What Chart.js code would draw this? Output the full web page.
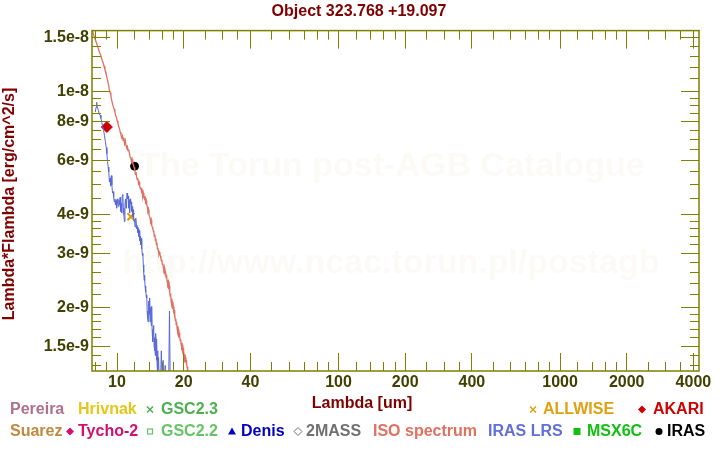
<!DOCTYPE html>
<html>
<head>
<meta charset="utf-8">
<script src="https://cdn.jsdelivr.net/npm/chart.js@4.4.1/dist/chart.umd.min.js"></script>
<style>
  html, body { margin: 0; padding: 0; background: #fff; }
</style>
</head>
<body>
<canvas id="sed" width="720" height="450"></canvas>
<script>
// flux values are Lambda*Flambda in units of 1e-9 erg/cm^2/s, wavelengths in um

// ISO spectrum
const isoWave = [7.70, 7.78, 7.86, 7.94, 8.02, 8.10, 8.18, 8.26, 8.34, 8.42, 8.50, 8.58, 8.66, 8.74, 8.82, 8.90, 8.98,
  9.06, 9.14, 9.22, 9.30, 9.38, 9.46, 9.54, 9.62, 9.70, 9.78, 9.86, 9.94, 10.02, 10.10, 10.18, 10.26, 10.34, 10.42,
  10.50, 10.58, 10.66, 10.74, 10.82, 10.90, 10.98, 11.06, 11.14, 11.22, 11.30, 11.38, 11.46, 11.54, 11.62, 11.70,
  11.78, 11.86, 11.94, 12.02, 12.10, 12.18, 12.26, 12.34, 12.42, 12.50, 12.58, 12.66, 12.74, 12.82, 12.90, 12.98,
  13.06, 13.14, 13.22, 13.30, 13.38, 13.46, 13.54, 13.62, 13.70, 13.78, 13.86, 13.94, 14.02, 14.10, 14.18, 14.26,
  14.34, 14.42, 14.50, 14.58, 14.66, 14.74, 14.82, 14.90, 14.98, 15.06, 15.14, 15.22, 15.30, 15.38, 15.46, 15.54,
  15.62, 15.70, 15.78, 15.86, 15.94, 16.02, 16.10, 16.18, 16.26, 16.34, 16.42, 16.50, 16.58, 16.66, 16.74, 16.82,
  16.90, 16.98, 17.06, 17.14, 17.22, 17.30, 17.38, 17.46, 17.54, 17.62, 17.70, 17.78, 17.86, 17.94, 18.02, 18.10,
  18.18, 18.26, 18.34, 18.42, 18.50, 18.58, 18.66, 18.74, 18.82, 18.90, 18.98, 19.06, 19.14, 19.22, 19.30, 19.38,
  19.46, 19.54, 19.62, 19.70, 19.78, 19.86, 19.94, 20.02, 20.10, 20.18, 20.26, 20.34, 20.42, 20.50, 20.58, 20.66,
  20.74, 20.82, 20.90, 21.00];
const isoFlux = [16.0, 15.6, 15.2, 14.9, 14.6, 14.3, 14.0, 13.7, 13.4, 13.2, 12.9, 12.6, 12.4, 12.1, 11.8, 11.6, 11.2,
  10.9, 10.6, 10.2, 9.95, 9.7, 9.4, 9.15, 8.95, 8.8, 8.6, 8.4, 8.25, 8.05, 7.9, 7.7, 7.6, 7.4, 7.25,
  7.1, 7.2, 6.95, 7.1, 6.8, 6.95, 6.7, 6.6, 6.65, 6.45, 6.5, 6.3, 6.15, 6.1, 5.95, 6.05,
  5.85, 5.8, 5.7, 5.6, 5.4, 5.5, 5.3, 5.2, 5.25, 5.05, 5.1, 4.95, 4.85, 4.9, 4.75, 4.8,
  4.6, 4.7, 4.55, 4.5, 4.55, 4.4, 4.45, 4.3, 4.25, 4.1, 4.15, 4.0, 3.95, 3.9, 3.8, 3.85,
  3.7, 3.65, 3.6, 3.55, 3.5, 3.4, 3.45, 3.3, 3.35, 3.2, 3.25, 3.1, 3.12, 3.05, 2.98, 3.02,
  2.98, 2.94, 2.88, 2.84, 2.86, 2.76, 2.78, 2.7, 2.66, 2.7, 2.6, 2.62, 2.55, 2.5, 2.56, 2.44,
  2.46, 2.38, 2.42, 2.3, 2.35, 2.24, 2.18, 2.22, 2.1, 2.14, 2.04, 2.07, 1.98, 2.02, 1.92, 1.96,
  1.86, 1.9, 1.82, 1.84, 1.76, 1.8, 1.72, 1.74, 1.67, 1.7, 1.64, 1.66, 1.6, 1.62, 1.56, 1.58,
  1.52, 1.54, 1.49, 1.51, 1.46, 1.48, 1.42, 1.45, 1.39, 1.41, 1.36, 1.38, 1.33, 1.35, 1.3, 1.31,
  1.28, 1.29, 1.25, 1.2];

// IRAS LRS spectrum
const lrsWave = [7.98, 8.04, 8.08, 8.12, 8.18, 8.24, 8.30, 8.38, 8.46, 8.54, 8.62, 8.70, 8.78, 8.86, 8.94, 9.00,
  9.06, 9.12, 9.18, 9.24, 9.30, 9.36, 9.42, 9.48, 9.54, 9.60, 9.66, 9.72, 9.78, 9.84, 9.90, 9.96, 10.02, 10.08,
  10.14, 10.20, 10.26, 10.32, 10.38, 10.44, 10.50, 10.56, 10.62, 10.68, 10.74, 10.80, 10.86, 10.92, 10.98, 11.04,
  11.10, 11.16, 11.22, 11.28, 11.34, 11.40, 11.46, 11.52, 11.58, 11.64, 11.70, 11.76, 11.82, 11.88, 11.94, 12.00,
  12.06, 12.12, 12.18, 12.24, 12.30, 12.36, 12.42, 12.48, 12.54, 12.60, 12.66, 12.72, 12.78, 12.84, 12.90, 12.96,
  13.02, 13.08, 13.14, 13.20, 13.26, 13.32, 13.38, 13.44, 13.50, 13.56, 13.62, 13.68, 13.74, 13.80, 13.86, 13.92,
  13.98, 14.04, 14.10, 14.16, 14.22, 14.28, 14.34, 14.40, 14.46, 14.52, 14.58, 14.64, 14.70, 14.76, 14.82, 14.88,
  14.94, 15.00, 15.06, 15.12, 15.18, 15.24, 15.30, 15.40, 15.50, 15.60, 15.70, 15.85, 16.00, 16.15, 16.30, 16.50,
  16.70, 16.90, 17.10, 17.25, 17.40, 17.60];
const lrsFlux = [8.6, 8.9, 9.25, 9.0, 8.85, 8.7, 8.5, 8.4, 8.2, 7.95, 7.7, 7.5, 7.2, 6.9, 6.6, 6.3,
  5.95, 5.7, 5.5, 5.1, 5.25, 4.95, 5.35, 5.0, 4.7, 4.75, 4.55, 4.4, 4.5, 4.3, 4.45, 4.2, 4.5, 4.35,
  4.25, 4.45, 4.3, 4.55, 4.1, 4.35, 4.05, 4.6, 4.65, 4.2, 4.0, 3.8, 4.3, 4.5, 4.2, 4.4,
  4.7, 4.5, 4.6, 4.2, 4.45, 4.05, 4.5, 4.35, 4.4, 4.1, 4.25, 3.95, 4.15, 3.9, 3.8, 3.85,
  3.65, 3.75, 3.9, 3.7, 3.6, 3.65, 3.5, 3.6, 3.4, 3.55, 3.3, 3.4, 3.2, 3.35, 3.1, 3.15,
  2.95, 3.0, 2.75, 2.6, 2.45, 2.55, 2.35, 2.25, 2.3, 2.15, 2.2, 1.95, 1.85, 1.8, 2.05, 2.1,
  1.9, 2.15, 1.8, 1.9, 2.0, 1.75, 2.02, 1.7, 1.6, 1.55, 1.7, 1.75, 1.5, 1.45, 1.6, 1.4,
  1.65, 1.58, 1.35, 1.55, 1.3, 1.45, 1.2, 1.38, 1.15, 1.25, 1.1, 1.45, 1.15, 1.35, 1.05, 1.3,
  1.0, 1.15, 1.1, 1.95, 1.1, 1.0];

// photometry
const akariWave = [9.0];
const akariFlux = [7.69];
const irasWave = [12.0];
const irasFlux = [5.74];
const allwiseWave = [11.56];
const allwiseFlux = [3.94];

// axes
const xTickValues = [10, 20, 40, 100, 200, 400, 1000, 2000, 4000];
const xTickLabels = ['10', '20', '40', '100', '200', '400', '1000', '2000', '4000'];
const xMinorTicks = [8, 9, 12, 14, 16, 18, 25, 30, 35, 50, 60, 70, 80, 90, 120, 140, 160, 180, 250, 300, 350,
  500, 600, 700, 800, 900, 1200, 1400, 1600, 1800, 2500, 3000, 3500];
const yTickValues = [1.5, 2, 3, 4, 6, 8, 10, 15];
const yTickLabels = ['1.5e-9', '2e-9', '3e-9', '4e-9', '6e-9', '8e-9', '1e-8', '1.5e-8'];
const yMinorTicks = [1.3, 1.4, 1.6, 1.7, 1.8, 1.9, 2.2, 2.4, 2.6, 2.8, 3.2, 3.4, 3.6, 3.8, 4.5, 5, 5.5,
  6.5, 7, 7.5, 8.5, 9, 9.5, 11, 12, 13, 14];

const FONT = '"Liberation Sans", Arial, sans-serif';
const OLIVE = '#808000';

const pts = (w, f) => w.map((v, i) => ({ x: v, y: f[i] }));

// legend entries: [text, colour, marker, textX, markerX, row]
const legendItems = [
  ['Pereira', '#b0708c', null, 10, 0, 0],
  ['Hrivnak', '#e6c618', null, 78, 0, 0],
  ['GSC2.3', '#4caf50', 'x', 161, 150, 0],
  ['ALLWISE', '#e0a010', 'x', 543, 533, 0],
  ['AKARI', '#d00000', 'diamond', 653, 642, 0],
  ['Suarez', '#c08a3c', null, 10, 0, 1],
  ['Tycho-2', '#d0106f', 'diamond', 78, 70, 1],
  ['GSC2.2', '#66c466', 'square', 161, 150, 1],
  ['Denis', '#0000c0', 'triangle', 241, 232, 1],
  ['2MASS', '#707070', 'odiamond', 306, 298, 1],
  ['ISO spectrum', '#e0705f', null, 373, 0, 1],
  ['IRAS LRS', '#6070d8', null, 488, 0, 1],
  ['MSX6C', '#10c010', 'fsquare', 587, 577, 1],
  ['IRAS', '#000000', 'circle', 667, 659, 1]
];

function legendMarker(ctx, kind, x, y, color) {
  ctx.save();
  ctx.fillStyle = color;
  ctx.strokeStyle = color;
  ctx.lineWidth = 1.5;
  ctx.beginPath();
  if (kind === 'x') {
    ctx.moveTo(x - 3, y - 3); ctx.lineTo(x + 3, y + 3);
    ctx.moveTo(x + 3, y - 3); ctx.lineTo(x - 3, y + 3);
    ctx.stroke();
  } else if (kind === 'diamond') {
    ctx.moveTo(x, y - 4); ctx.lineTo(x + 4, y); ctx.lineTo(x, y + 4); ctx.lineTo(x - 4, y);
    ctx.closePath(); ctx.fill();
  } else if (kind === 'odiamond') {
    ctx.lineWidth = 1;
    ctx.moveTo(x, y - 4); ctx.lineTo(x + 4, y); ctx.lineTo(x, y + 4); ctx.lineTo(x - 4, y);
    ctx.closePath(); ctx.stroke();
  } else if (kind === 'square') {
    ctx.lineWidth = 1.2;
    ctx.strokeRect(x - 2.5, y - 2.5, 5, 5);
  } else if (kind === 'fsquare') {
    ctx.fillRect(x - 3.5, y - 3.5, 7, 7);
  } else if (kind === 'triangle') {
    ctx.moveTo(x, y - 4); ctx.lineTo(x + 4, y + 3); ctx.lineTo(x - 4, y + 3);
    ctx.closePath(); ctx.fill();
  } else if (kind === 'circle') {
    ctx.arc(x, y, 3.5, 0, Math.PI * 2); ctx.fill();
  }
  ctx.restore();
}

// tick marks drawn by the scales themselves: negative length points them into the plot,
// a dash pattern shortens the minor ones to half length
const isMinor = list => c => !!(c.tick && list.includes(c.tick.value));
function inwardTicks(minorTest, startsAtBorder) {
  return {
    display: true,
    drawOnChartArea: false,
    drawTicks: true,
    tickLength: -18,
    tickColor: OLIVE,
    tickWidth: 1,
    z: 1,
    tickBorderDash: c => minorTest(c) ? (startsAtBorder ? [9, 100] : [0, 9, 9, 100]) : []
  };
}
const allX = xTickValues.concat(xMinorTicks);
const allY = yTickValues.concat(yMinorTicks);
const xLabel = v => { const i = xTickValues.indexOf(v); return i >= 0 ? xTickLabels[i] : ''; };
const yLabel = v => { const i = yTickValues.indexOf(v); return i >= 0 ? yTickLabels[i] : ''; };

// faint catalogue watermark behind the spectra
const watermark = {
  id: 'watermark',
  beforeDatasetsDraw(chart) {
    const ctx = chart.ctx;
    ctx.save();
    ctx.fillStyle = '#fcfaf7';
    ctx.font = 'bold 34px ' + FONT;
    ctx.textAlign = 'center';
    ctx.textBaseline = 'alphabetic';
    ctx.fillText('The Torun post-AGB Catalogue', 392, 176);
    ctx.fillText('http://www.ncac.torun.pl/postagb', 391, 273);
    ctx.restore();
  }
};

// frame box
const frame = {
  id: 'frame',
  afterDraw(chart) {
    const { ctx, chartArea: a } = chart;
    ctx.save();
    ctx.strokeStyle = OLIVE;
    ctx.lineWidth = 1.5;
    ctx.strokeRect(a.left, a.top, a.right - a.left, a.bottom - a.top);
    ctx.restore();
  }
};

// titles and catalogue legend
const labels = {
  id: 'labels',
  afterDraw(chart) {
    const ctx = chart.ctx;
    ctx.save();
    ctx.font = 'bold 16px ' + FONT;
    ctx.textBaseline = 'middle';
    ctx.textAlign = 'center';
    ctx.fillStyle = '#800000';
    ctx.fillText('Object 323.768 +19.097', 359, 12);
    ctx.fillText('Lambda [um]', 362, 404);
    ctx.save();
    ctx.translate(10, 204);
    ctx.rotate(-Math.PI / 2);
    ctx.fillText('Lambda*Flambda [erg/cm^2/s]', 0, 0);
    ctx.restore();

    ctx.textAlign = 'left';
    legendItems.forEach(([text, color, kind, tx, mx, row]) => {
      const y = row === 0 ? 409.5 : 431.5;
      if (kind) legendMarker(ctx, kind, mx, y, color);
      ctx.fillStyle = color;
      ctx.fillText(text, tx, y);
    });
    ctx.restore();
  }
};

Chart.defaults.font.family = FONT;

new Chart(document.getElementById('sed'), {
  type: 'scatter',
  data: {
    datasets: [
      {
        label: 'ISO spectrum',
        data: pts(isoWave, isoFlux),
        xAxisID: 'x', yAxisID: 'y',
        showLine: true,
        borderColor: '#e0705f',
        borderWidth: 1.3,
        pointRadius: 0,
        tension: 0
      },
      {
        label: 'IRAS LRS',
        data: pts(lrsWave, lrsFlux),
        xAxisID: 'x', yAxisID: 'y',
        showLine: true,
        borderColor: '#5868d8',
        borderWidth: 1,
        pointRadius: 0,
        tension: 0
      },
      {
        label: 'AKARI',
        data: pts(akariWave, akariFlux),
        xAxisID: 'x', yAxisID: 'y',
        pointStyle: 'rectRot',
        pointRadius: 5.5,
        backgroundColor: '#cc0000',
        borderColor: '#cc0000',
        borderWidth: 1
      },
      {
        label: 'IRAS',
        data: pts(irasWave, irasFlux),
        xAxisID: 'x', yAxisID: 'y',
        pointStyle: 'circle',
        pointRadius: 4,
        backgroundColor: '#000000',
        borderColor: '#000000',
        borderWidth: 1
      },
      {
        label: 'ALLWISE',
        data: pts(allwiseWave, allwiseFlux),
        xAxisID: 'x', yAxisID: 'y',
        pointStyle: 'crossRot',
        pointRadius: 5,
        borderColor: '#e09a00',
        borderWidth: 2
      }
    ]
  },
  options: {
    responsive: false,
    animation: false,
    devicePixelRatio: 1,
    layout: { padding: { top: 29, right: 21, left: 0, bottom: 0 } },
    plugins: {
      legend: { display: false },
      tooltip: { enabled: false },
      title: { display: false }
    },
    scales: {
      x: {
        type: 'logarithmic',
        position: 'bottom',
        min: 7.71,
        max: 4240,
        grid: inwardTicks(isMinor(xMinorTicks), true),
        border: { display: false },
        afterFit: s => { s.height = 79; },
        afterBuildTicks: s => { s.ticks = allX.map(v => ({ value: v })); },
        ticks: {
          autoSkip: false,
          maxRotation: 0,
          padding: 20,
          color: '#404000',
          font: { size: 16, weight: 'bold' },
          callback: v => xLabel(v)
        }
      },
      y: {
        type: 'logarithmic',
        position: 'left',
        min: 1.247,
        max: 15.78,
        grid: inwardTicks(isMinor(yMinorTicks), false),
        border: { display: false },
        afterFit: s => { s.width = 92; },
        afterBuildTicks: s => { s.ticks = allY.map(v => ({ value: v })); },
        ticks: {
          autoSkip: false,
          padding: 21,
          color: '#404000',
          font: { size: 16, weight: 'bold' },
          callback: v => yLabel(v)
        }
      },
      xTop: {
        type: 'logarithmic',
        axis: 'x',
        position: 'top',
        min: 7.71,
        max: 4240,
        grid: inwardTicks(isMinor(xMinorTicks), false),
        border: { display: false },
        afterFit: s => { s.height = 0; },
        afterBuildTicks: s => { s.ticks = allX.map(v => ({ value: v })); },
        ticks: { display: false, autoSkip: false }
      },
      yRight: {
        type: 'logarithmic',
        axis: 'y',
        position: 'right',
        min: 1.247,
        max: 15.78,
        grid: inwardTicks(isMinor(yMinorTicks), true),
        border: { display: false },
        afterFit: s => { s.width = 0; },
        afterBuildTicks: s => { s.ticks = allY.map(v => ({ value: v })); },
        ticks: { display: false, autoSkip: false }
      }
    }
  },
  plugins: [watermark, frame, labels]
});
</script>
</body>
</html>
